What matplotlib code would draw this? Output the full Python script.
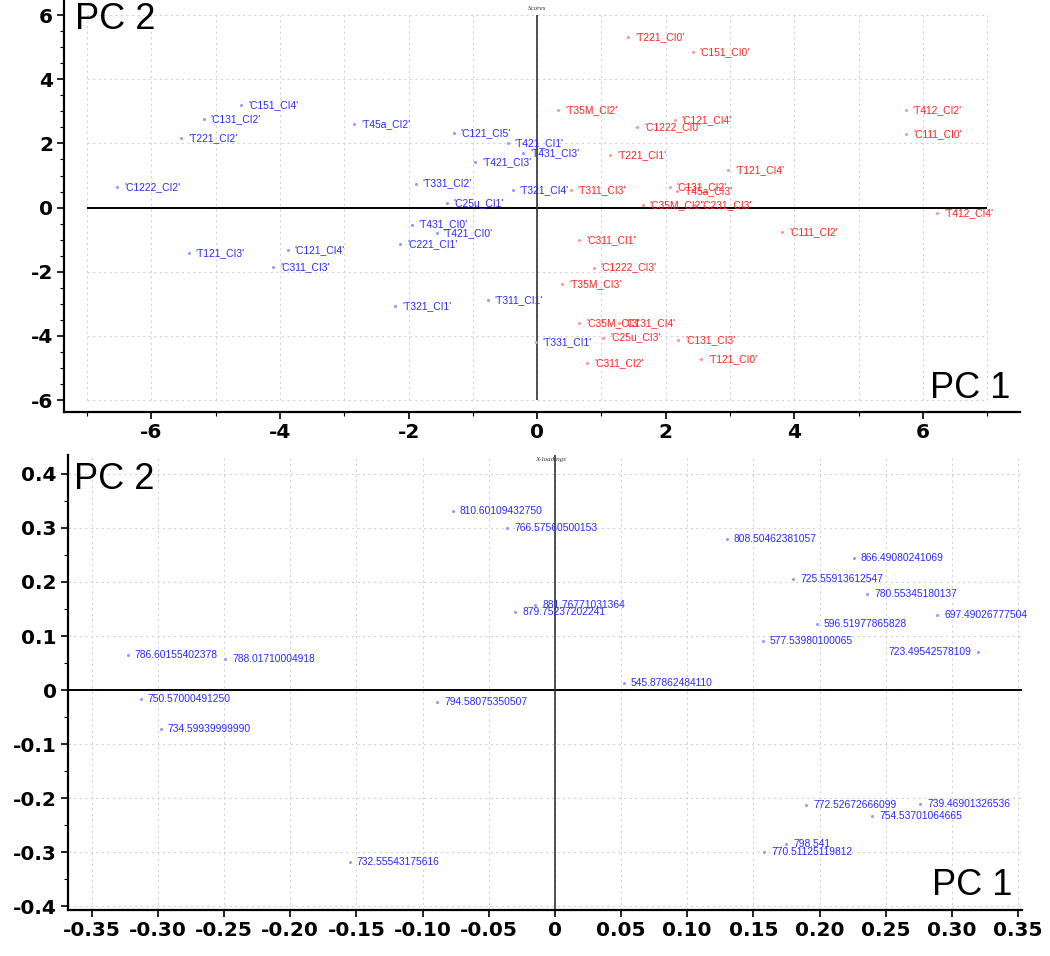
import matplotlib
matplotlib.use("Agg")
import matplotlib.pyplot as plt
from matplotlib.ticker import MultipleLocator

plt.rcParams['font.family'] = ['Liberation Sans', 'DejaVu Sans']

# ---------------- Scores (top) ----------------
blue_labels = ["'C151_CI4'", "'C131_CI2'", "'T221_CI2'", "'C1222_CI2'", "'T45a_CI2'",
               "'C121_CI5'", "'T421_CI1'", "'T431_CI3'", "'T421_CI3'", "'T331_CI2'",
               "'T321_CI4'", "'C25u_CI1'", "'T431_CI0'", "'T421_CI0'", "'C221_CI1'",
               "'T121_CI3'", "'C121_CI4'", "'C311_CI3'", "'T321_CI1'", "'T311_CI1'",
               "'T331_CI1'"]
blue_x = [-4.60, -5.19, -5.54, -6.53, -2.85, -1.30, -0.46, -0.22, -0.96, -1.89,
          -0.38, -1.41, -1.95, -1.56, -2.13, -5.42, -3.88, -4.11, -2.21, -0.77, -0.02]
blue_y = [3.20, 2.77, 2.18, 0.65, 2.59, 2.33, 2.02, 1.69, 1.42, 0.75,
          0.54, 0.15, -0.53, -0.78, -1.13, -1.42, -1.31, -1.85, -3.06, -2.88, -4.18]

red_labels = ["'T221_CI0'", "'C151_CI0'", "'T35M_CI2'", "'C121_CI4'", "'C1222_CI0'",
              "'T221_CI1'", "'T121_CI4'", "'C131_CI2'", "'T45a_CI3'", "'C35M_CI2'",
              "'C231_CI3'", "'T311_CI3'", "'T412_CI2'", "'C111_CI0'", "'T412_CI4'",
              "'C111_CI2'", "'C311_CI1'", "'C1222_CI3'", "'T35M_CI3'", "'C35M_CI3'",
              "'C131_CI4'", "'C25u_CI3'", "'C131_CI3'", "'C311_CI2'", "'T121_CI0'"]
red_x = [1.42, 2.42, 0.33, 2.14, 1.56, 1.14, 2.97, 2.06, 2.17, 1.64,
         2.45, 0.52, 5.73, 5.74, 6.22, 3.81, 0.65, 0.88, 0.39, 0.65,
         1.27, 1.03, 2.19, 0.78, 2.55]
red_y = [5.32, 4.85, 3.03, 2.73, 2.51, 1.63, 1.16, 0.63, 0.51, 0.09,
         0.08, 0.56, 3.04, 2.28, -0.17, -0.77, -1.02, -1.87, -2.38, -3.60,
         -3.60, -4.05, -4.12, -4.85, -4.73]

# ---------------- X-loadings (bottom) ----------------
load_labels = ["810.60109432750", "766.57560500153", "881.76771031364", "879.75237202241",
               "808.50462381057", "866.49080241069", "725.55913612547", "780.55345180137",
               "697.49026777504", "596.51977865828", "577.53980100065", "545.87862484110",
               "786.60155402378", "788.01710004918", "750.57000491250", "734.59939999990",
               "794.58075350507", "732.55543175616", "772.52672666099", "739.46901326536",
               "754.53701064665", "798.541", "770.51125119812"]
load_x = [-0.077, -0.036, -0.015, -0.030, 0.130, 0.226, 0.180, 0.236, 0.289, 0.198,
          0.157, 0.052, -0.323, -0.249, -0.313, -0.298, -0.089, -0.155, 0.190, 0.276,
          0.240, 0.175, 0.158]
load_y = [0.332, 0.299, 0.157, 0.145, 0.280, 0.244, 0.205, 0.178, 0.139, 0.123,
          0.091, 0.013, 0.065, 0.057, -0.017, -0.072, -0.023, -0.319, -0.212, -0.210,
          -0.233, -0.285, -0.300]
right_label = ["723.49542578109"]
right_x = [0.320]
right_y = [0.071]

BLUE = '#2b2bff'
RED = '#ff2424'
LBL = 7.4
TICK = 14.5

fig = plt.figure(figsize=(10.5, 9.56), dpi=100)
W, H = 1050, 956


def ax_at(x0, y0, x1, y1):
    return fig.add_axes([x0 / W, 1 - y1 / H, (x1 - x0) / W, (y1 - y0) / H])


def style(ax):
    for s in ['top', 'right']:
        ax.spines[s].set_visible(False)
    for s in ['left', 'bottom']:
        ax.spines[s].set_linewidth(1.6)
    ax.tick_params(axis='both', which='major', labelsize=TICK, width=1.2, length=5, pad=3)
    ax.tick_params(axis='both', which='minor', width=0.8, length=3)
    for t in ax.get_xticklabels() + ax.get_yticklabels():
        t.set_fontweight('bold')
        t.set_family('DejaVu Sans')
    ax.set_axisbelow(True)


GRID = dict(color='#d4d4d4', linestyle=(0, (2, 3)), linewidth=0.8, zorder=0)

# Top axes
ax1 = ax_at(64, 0, 1020, 412)
ax1.set_xlim(-7.36, 7.51)
ax1.set_ylim(-6.37, 6.47)
ax1.set_xticks([-6, -4, -2, 0, 2, 4, 6])
ax1.set_yticks([-6, -4, -2, 0, 2, 4, 6])
ax1.set_xticklabels(['-6', '-4', '-2', '0', '2', '4', '6'])
ax1.set_yticklabels(['-6', '-4', '-2', '0', '2', '4', '6'])
ax1.yaxis.set_minor_locator(MultipleLocator(0.5))
ax1.xaxis.set_minor_locator(MultipleLocator(1))
style(ax1)
ax1.vlines(range(-7, 8), -6, 6, **GRID)
ax1.hlines([-6, -4, -2, 2, 4, 6], -7, 7, **GRID)
ax1.hlines(0, -7, 7, color='black', lw=1.4)
ax1.vlines(0, -6, 6, color='#333333', lw=1.2)
ax1.plot(blue_x, blue_y, linestyle='none', marker='.', ms=2.5, color='#9a9aff')
ax1.plot(red_x, red_y, linestyle='none', marker='.', ms=2.5, color='#ff9a9a')
for lb, x, y in zip(blue_labels, blue_x, blue_y):
    ax1.annotate(lb, (x, y), xytext=(5, 0), textcoords='offset points',
                 fontsize=LBL, color=BLUE, va='center', ha='left')
for lb, x, y in zip(red_labels, red_x, red_y):
    ax1.annotate(lb, (x, y), xytext=(5, 0), textcoords='offset points',
                 fontsize=LBL, color=RED, va='center', ha='left')
ax1.text(0.0, 6.22, 'Scores', fontsize=5, style='italic', ha='center', va='center',
         family='Liberation Serif', color='#333333')
ax1.text(0.012, 0.995, 'PC 2', transform=ax1.transAxes, fontsize=26, ha='left', va='top')
ax1.text(0.99, 0.015, 'PC 1', transform=ax1.transAxes, fontsize=26, ha='right', va='bottom')

# Bottom axes
ax2 = ax_at(68, 455, 1022, 910)
ax2.set_xlim(-0.368, 0.353)
ax2.set_ylim(-0.407, 0.435)
xt = [-0.35, -0.30, -0.25, -0.20, -0.15, -0.10, -0.05, 0, 0.05, 0.10, 0.15, 0.20, 0.25, 0.30, 0.35]
ax2.set_xticks(xt)
ax2.set_xticklabels(['-0.35', '-0.30', '-0.25', '-0.20', '-0.15', '-0.10', '-0.05', '0',
                     '0.05', '0.10', '0.15', '0.20', '0.25', '0.30', '0.35'])
yt = [-0.4, -0.3, -0.2, -0.1, 0, 0.1, 0.2, 0.3, 0.4]
ax2.set_yticks(yt)
ax2.set_yticklabels(['-0.4', '-0.3', '-0.2', '-0.1', '0', '0.1', '0.2', '0.3', '0.4'])
ax2.yaxis.set_minor_locator(MultipleLocator(0.05))
style(ax2)
ax2.grid(True, which='major', **{k: v for k, v in GRID.items() if k != 'zorder'})
ax2.axhline(0, color='black', lw=1.4)
ax2.axvline(0, color='#333333', lw=1.2)
ax2.plot(load_x + right_x, load_y + right_y, linestyle='none', marker='.', ms=2.5,
         color='#9a9aff')
for lb, x, y in zip(load_labels, load_x, load_y):
    ax2.annotate(lb, (x, y), xytext=(5, 0), textcoords='offset points',
                 fontsize=LBL, color=BLUE, va='center', ha='left')
for lb, x, y in zip(right_label, right_x, right_y):
    ax2.annotate(lb, (x, y), xytext=(-5, 0), textcoords='offset points',
                 fontsize=LBL, color=BLUE, va='center', ha='right')
ax2.text(-0.003, 0.427, 'X-loadings', fontsize=5, style='italic', ha='center', va='center',
         family='Liberation Serif', color='#333333')
ax2.text(0.006, 0.985, 'PC 2', transform=ax2.transAxes, fontsize=26, ha='left', va='top')
ax2.text(0.99, 0.015, 'PC 1', transform=ax2.transAxes, fontsize=26, ha='right', va='bottom')

fig.savefig('out.png', dpi=100)
